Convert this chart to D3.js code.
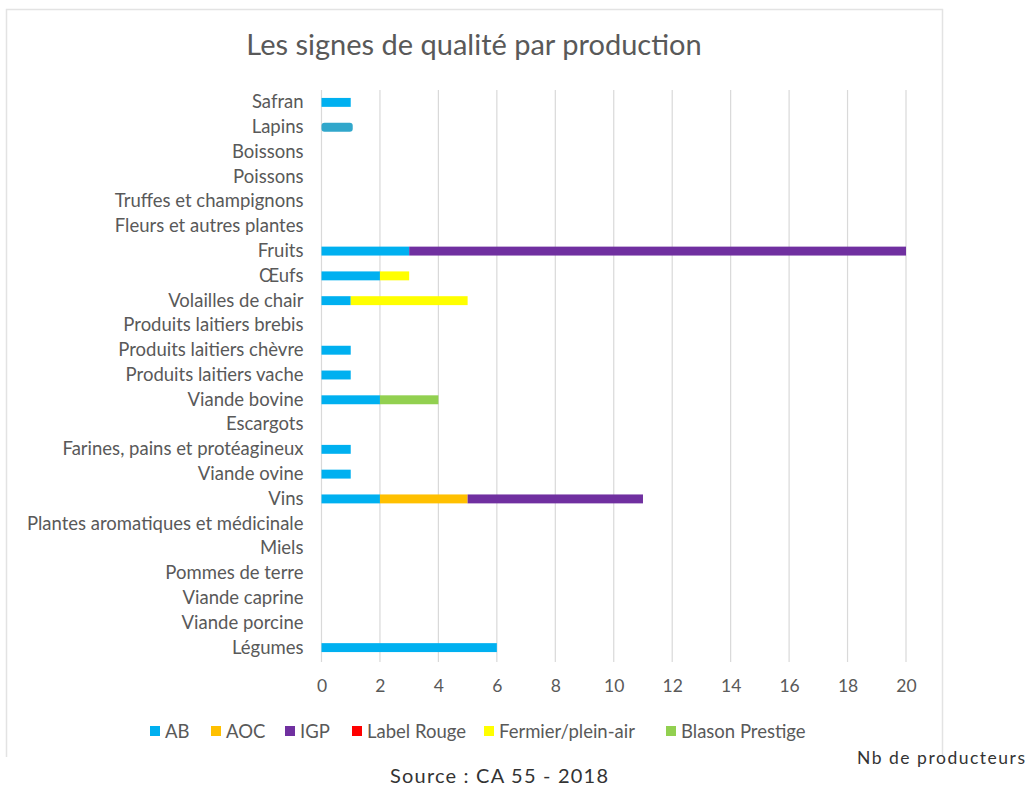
<!DOCTYPE html>
<html>
<head>
<meta charset="utf-8">
<script src="https://cdn.jsdelivr.net/npm/d3@7"></script>
<style>
  body { margin: 0; background: #fff; }
  svg text { font-family: Lato, "Open Sans", sans-serif; }
</style>
</head>
<body>
<div id="container"></div>
<script>
const width = 1028;
const height = 787;

// categories, top to bottom
const categories = ['Safran', 'Lapins', 'Boissons', 'Poissons', 'Truffes et champignons',
  'Fleurs et autres plantes', 'Fruits', 'Œufs', 'Volailles de chair', 'Produits laitiers brebis',
  'Produits laitiers chèvre', 'Produits laitiers vache', 'Viande bovine', 'Escargots',
  'Farines, pains et protéagineux', 'Viande ovine', 'Vins', 'Plantes aromatiques et médicinale',
  'Miels', 'Pommes de terre', 'Viande caprine', 'Viande porcine', 'Légumes'];

const seriesNames = ['AB', 'AOC', 'IGP', 'Label Rouge', 'Fermier/plein-air', 'Blason Prestige'];
const seriesColors = ['#00b0f0', '#ffc000', '#7030a0', '#ff0000', '#ffff00', '#92d050'];

const ab      = [1, 1, 0, 0, 0, 0, 3, 2, 1, 0, 1, 1, 2, 0, 1, 1, 2, 0, 0, 0, 0, 0, 6];
const aoc     = [0, 0, 0, 0, 0, 0, 0, 0, 0, 0, 0, 0, 0, 0, 0, 0, 3, 0, 0, 0, 0, 0, 0];
const igp     = [0, 0, 0, 0, 0, 0, 17, 0, 0, 0, 0, 0, 0, 0, 0, 0, 6, 0, 0, 0, 0, 0, 0];
const labelRouge = [0, 0, 0, 0, 0, 0, 0, 0, 0, 0, 0, 0, 0, 0, 0, 0, 0, 0, 0, 0, 0, 0, 0];
const fermier = [0, 0, 0, 0, 0, 0, 0, 1, 4, 0, 0, 0, 0, 0, 0, 0, 0, 0, 0, 0, 0, 0, 0];
const blason  = [0, 0, 0, 0, 0, 0, 0, 0, 0, 0, 0, 0, 2, 0, 0, 0, 0, 0, 0, 0, 0, 0, 0];

const xTicks = [0, 2, 4, 6, 8, 10, 12, 14, 16, 18, 20];

const table = categories.map((c, i) => ({
  category: c,
  'AB': ab[i], 'AOC': aoc[i], 'IGP': igp[i], 'Label Rouge': labelRouge[i],
  'Fermier/plein-air': fermier[i], 'Blason Prestige': blason[i]
}));

const svg = d3.select('#container')
  .append('svg')
  .attr('width', width)
  .attr('height', height);

// chart frame
svg.append('path')
  .attr('d', 'M6.5,757 V9.5 H942.5 V757')
  .attr('fill', 'none')
  .attr('stroke', '#e3e3e3')
  .attr('stroke-width', 1.5);

svg.append('text')
  .attr('x', 474)
  .attr('y', 55)
  .attr('text-anchor', 'middle')
  .attr('font-size', 29)
  .attr('fill', '#595959')
  .text('Les signes de qualité par production');

const xScale = d3.scaleLinear().domain([0, 20]).range([321.5, 906]);
const yScale = d3.scaleBand().domain(categories).range([90, 660]).paddingInner(0.64).paddingOuter(0.32);

// gridlines
svg.append('g')
  .selectAll('line')
  .data(xTicks)
  .enter()
  .append('line')
  .attr('x1', d => xScale(d))
  .attr('x2', d => xScale(d))
  .attr('y1', 90)
  .attr('y2', 662)
  .attr('stroke', '#d9d9d9')
  .attr('stroke-width', 1.2);

const stack = d3.stack().keys(seriesNames)(table);

svg.append('g')
  .selectAll('g')
  .data(stack)
  .enter()
  .append('g')
  .attr('fill', (d, i) => seriesColors[i])
  .selectAll('rect')
  .data(d => d.filter(p => p[1] > p[0]))
  .enter()
  .append('rect')
  .attr('x', d => xScale(d[0]))
  .attr('y', d => yScale(d.data.category))
  .attr('width', d => xScale(d[1]) - xScale(d[0]))
  .attr('height', yScale.bandwidth())
  .each(function (d) {
    // the Lapins bar is drawn in a different, rounded style in the original
    if (d.data.category === 'Lapins') {
      d3.select(this).attr('fill', '#31a7cb').attr('rx', 3).attr('width', xScale(d[1]) - xScale(d[0]) + 2);
    }
  });

// y axis labels
const yAxis = d3.axisLeft(yScale).tickSize(0).tickPadding(18);
const yg = svg.append('g')
  .attr('transform', 'translate(321.5,0)')
  .call(yAxis);
yg.select('.domain').remove();
yg.selectAll('text')
  .attr('font-family', 'Lato, sans-serif')
  .attr('font-size', 18.5)
  .attr('fill', '#595959');

// x axis labels
const xAxis = d3.axisBottom(xScale).tickValues(xTicks).tickSize(0).tickPadding(18);
const xg = svg.append('g')
  .attr('transform', 'translate(0,662)')
  .call(xAxis);
xg.select('.domain').remove();
xg.selectAll('text')
  .attr('font-family', 'Lato, sans-serif')
  .attr('font-size', 17.5)
  .attr('fill', '#595959');

// legend
const legendX = [150, 211, 285, 352, 484, 666];
const legend = svg.append('g');
seriesNames.forEach((name, i) => {
  legend.append('rect')
    .attr('x', legendX[i])
    .attr('y', 726)
    .attr('width', 10)
    .attr('height', 10)
    .attr('fill', seriesColors[i]);
  legend.append('text')
    .attr('x', legendX[i] + 15)
    .attr('y', 738)
    .attr('font-size', 18.5)
    .attr('fill', '#595959')
    .text(name);
});

svg.append('text')
  .attr('x', 1025)
  .attr('y', 764)
  .attr('text-anchor', 'end')
  .attr('font-family', '"DejaVu Sans", sans-serif')
  .attr('font-size', 17.5)
  .attr('textLength', 168)
  .attr('lengthAdjust', 'spacing')
  .attr('fill', '#333')
  .text('Nb de producteurs');

svg.append('text')
  .attr('x', 499)
  .attr('y', 783)
  .attr('text-anchor', 'middle')
  .attr('font-family', '"DejaVu Sans", sans-serif')
  .attr('font-size', 20)
  .attr('textLength', 218)
  .attr('lengthAdjust', 'spacing')
  .attr('fill', '#333')
  .text('Source : CA 55 - 2018');
</script>
</body>
</html>
